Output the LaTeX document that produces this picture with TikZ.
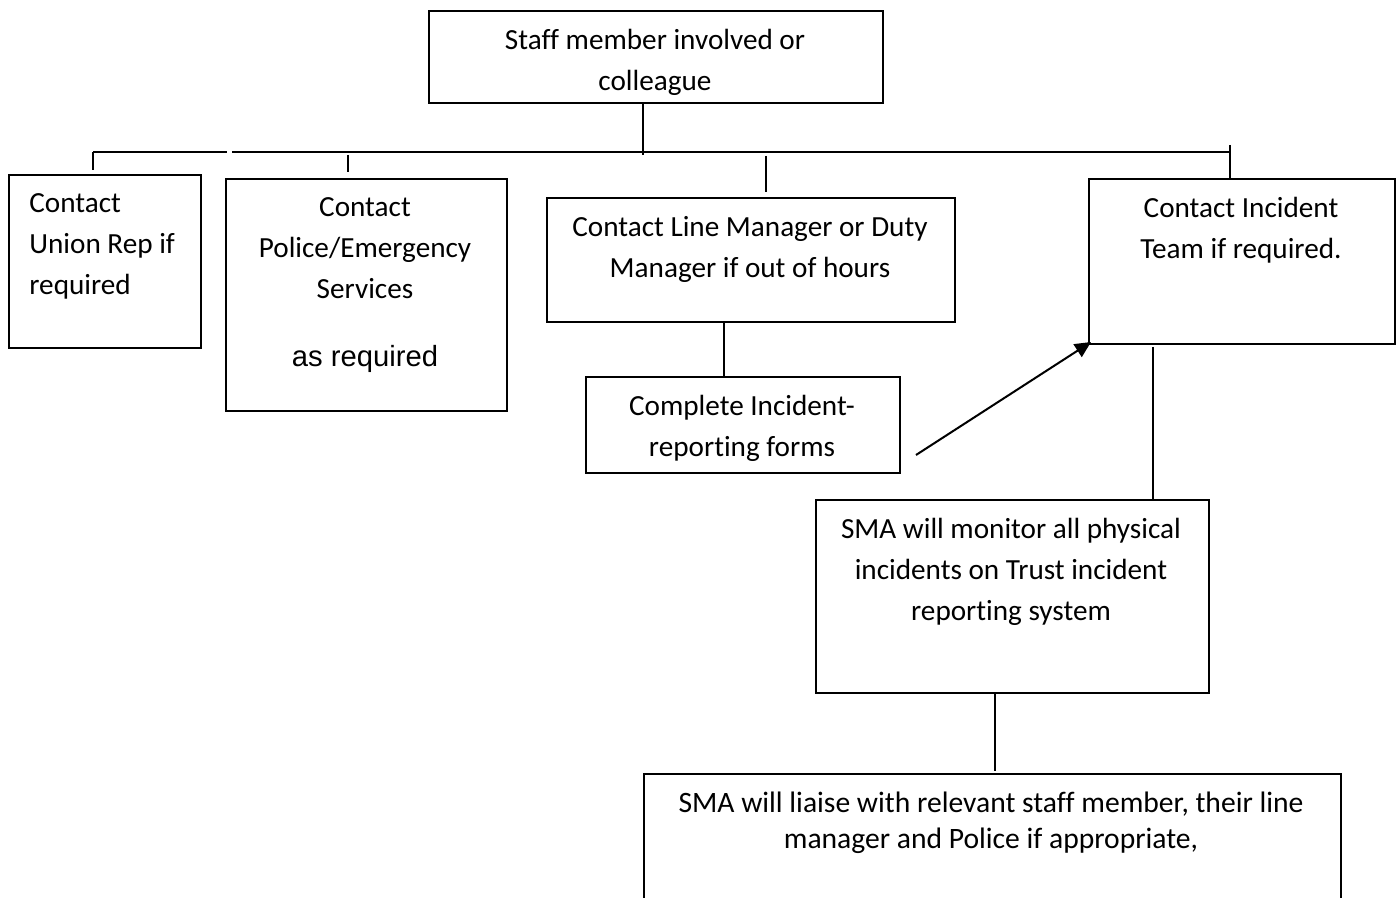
\documentclass[tikz,border=0pt]{standalone}
\usepackage{fontspec}
\setmainfont{Carlito}[Ligatures=NoCommon]
\newfontfamily\arialfont{Liberation Sans}
\usetikzlibrary{arrows.meta}
\tikzset{
  box/.style={draw, line width=1pt, inner sep=0pt, anchor=north west},
  txt/.style={inner sep=0pt, align=center, font=\fontsize{14.6pt}{20.5pt}\selectfont},
  conn/.style={line width=1pt},
  arr/.style={line width=1pt, -{Triangle[length=8pt,width=7.5pt]}}
}
\begin{document}
\begin{tikzpicture}[x=0.5pt, y=-0.5pt]
\clip (0,0) rectangle (1397,898);
\fill[white] (0,0) rectangle (1397,898);
% boxes
\node[box, minimum width=227pt, minimum height=46pt] (top) at (428,10) {};
\node[box, minimum width=96pt, minimum height=86.5pt] (union) at (8,174) {};
\node[box, minimum width=140.5pt, minimum height=116pt] (police) at (225,178) {};
\node[box, minimum width=204pt, minimum height=62pt] (lm) at (546,197) {};
\node[box, minimum width=157pt, minimum height=48pt] (complete) at (585,376) {};
\node[box, minimum width=153pt, minimum height=82.5pt] (incident) at (1088,178) {};
\node[box, minimum width=196.5pt, minimum height=96.5pt] (sma) at (815,499) {};
\node[box, minimum width=348.5pt, minimum height=80pt] (liaise) at (643,773) {};
% texts
\node[txt, anchor=north] (topt) at (655,29) {Staff member involved or\\colleague};
\node[txt, anchor=north west, align=left] (uniont) at (29,193) {Contact\\Union Rep if\\required};
\node[txt, anchor=north] (policet) at (365,197) {Contact\\Police/Emergency\\Services};
\node[inner sep=0pt, anchor=base, font=\arialfont\fontsize{14.6pt}{17pt}\selectfont] (policeas) at (365,367) {as required};
\node[txt, anchor=north] (lmt) at (750,216) {Contact Line Manager or Duty\\Manager if out of hours};
\node[txt, anchor=north] (completet) at (742,395) {Complete Incident-\\reporting forms};
\node[txt, anchor=north] (incidentt) at (1241,197) {Contact Incident\\Team if required.};
\node[txt, anchor=north] (smat) at (1011,518) {SMA will monitor all physical\\incidents on Trust incident\\reporting system};
\node[txt, anchor=north, font=\fontsize{14.8pt}{18pt}\selectfont] (liaiset) at (991,792) {SMA will liaise with relevant staff member, their line\\manager and Police if appropriate,};
% coordinates
\coordinate (hA) at (93,152);
\coordinate (hB) at (227,152);
\coordinate (hC) at (232,152);
\coordinate (hD) at (1230,152);
\coordinate (topend) at (643,155);
\coordinate (s1a) at (93,152);  \coordinate (s1b) at (93,170);
\coordinate (s2a) at (348,155); \coordinate (s2b) at (348,172);
\coordinate (s3a) at (766,156); \coordinate (s3b) at (766,192);
\coordinate (s4a) at (1230,145);
\coordinate (arrstart) at (916,455);
\coordinate (arrend) at (1091,342);
\coordinate (incb) at (1153,347);
% connectors
\draw[conn] (top.south -| topend) -- (topend);
\draw[conn] (hA) -- (hB);
\draw[conn] (hC) -- (hD);
\draw[conn] (s1a) -- (s1b);
\draw[conn] (s2a) -- (s2b);
\draw[conn] (s3a) -- (s3b);
\draw[conn] (s4a) -- (incident.north -| s4a);
\draw[conn] (lm.south -| 724,0) -- (complete.north -| 724,0);
\draw[arr] (arrstart) -- (arrend);
\draw[conn] (incb) -- (sma.north -| incb);
\draw[conn] (sma.south -| 995,0) -- (995,771);
\end{tikzpicture}
\end{document}
